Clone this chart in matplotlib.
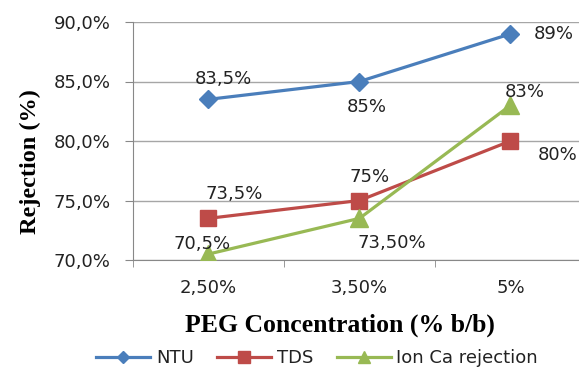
import matplotlib
matplotlib.use("Agg")
import matplotlib.pyplot as plt
from matplotlib.ticker import FuncFormatter

categories = ["2,50%", "3,50%", "5%"]
ntu = [83.5, 85.0, 89.0]
tds = [73.5, 75.0, 80.0]
ca = [70.5, 73.5, 83.0]
ntu_labels = ["83,5%", "85%", "89%"]
tds_labels = ["73,5%", "75%", "80%"]
ca_labels = ["70,5%", "73,50%", "83%"]

W, H = 579, 370
fig = plt.figure(figsize=(W / 100, H / 100), dpi=100)
# axes box in pixel coordinates (plot area runs slightly past right edge)
left, right, top, bottom = 133, 586, 22, 260
ax = fig.add_axes([left / W, 1 - bottom / H, (right - left) / W, (bottom - top) / H])

x = range(len(categories))
blue, red, green = "#4A7EBB", "#BE4B48", "#98B954"
ax.plot(x, ntu, color=blue, lw=2.3, marker="D", ms=9, label="NTU", zorder=3)
ax.plot(x, tds, color=red, lw=2.3, marker="s", ms=12, label="TDS", zorder=3)
ax.plot(x, ca, color=green, lw=2.3, marker="^", ms=13, label="Ion Ca rejection", zorder=3)

ax.set_xlim(-0.5, 2.5)
ax.set_ylim(70, 90)
ax.set_yticks([70, 75, 80, 85, 90])
ax.yaxis.set_major_formatter(FuncFormatter(lambda v, p: f"{v:.1f}%".replace(".", ",")))
ax.set_xticks([0, 1, 2])
ax.set_xticklabels(categories)
ax.set_xticks([-0.5, 0.5, 1.5], minor=True)
ax.tick_params(axis="x", which="major", length=0, pad=14)
ax.tick_params(axis="x", which="minor", length=5, color="#888888")
ax.tick_params(axis="y", length=6, color="#888888", pad=10)
ax.tick_params(labelsize=13, labelcolor="#222222")
ax.grid(axis="y", color="#A6A6A6", lw=1)
ax.set_axisbelow(True)
for s in ["top", "right"]:
    ax.spines[s].set_visible(False)
for s in ["left", "bottom"]:
    ax.spines[s].set_color("#888888")

fs = 13
def lab(xi, yi, text, dx, dy, ha="center"):
    ax.annotate(text, (xi, yi), xytext=(dx, -dy), textcoords="offset pixels",
                ha=ha, va="center", fontsize=fs, color="#222222")

lab(0, ntu[0], ntu_labels[0], 15, -20)
lab(1, ntu[1], ntu_labels[1], 7, 25)
lab(2, ntu[2], ntu_labels[2], 23, 0, ha="left")
lab(0, tds[0], tds_labels[0], 26, -24)
lab(1, tds[1], tds_labels[1], 10, -23)
lab(2, tds[2], tds_labels[2], 27, 14, ha="left")
lab(0, ca[0], ca_labels[0], -6, -10)
lab(1, ca[1], ca_labels[1], 32, 25)
lab(2, ca[2], ca_labels[2], 14, -13)

serif = ["Liberation Serif", "DejaVu Serif"]
fig.text(30 / W, 1 - 162 / H, "Rejection (%)", rotation=90, ha="center", va="center",
         fontsize=17.5, fontweight="bold", family=serif)
fig.text(340 / W, 1 - 325 / H, "PEG Concentration (% b/b)", ha="center", va="center",
         fontsize=18.5, fontweight="bold", family=serif)

fig.legend(loc="center", bbox_to_anchor=(317 / W, 1 - 358 / H), ncol=3, frameon=False,
           fontsize=13, handlelength=3.0, columnspacing=1.3, handletextpad=0.3,
           labelcolor="#222222", markerscale=0.7)

fig.savefig("out.png", dpi=100)
